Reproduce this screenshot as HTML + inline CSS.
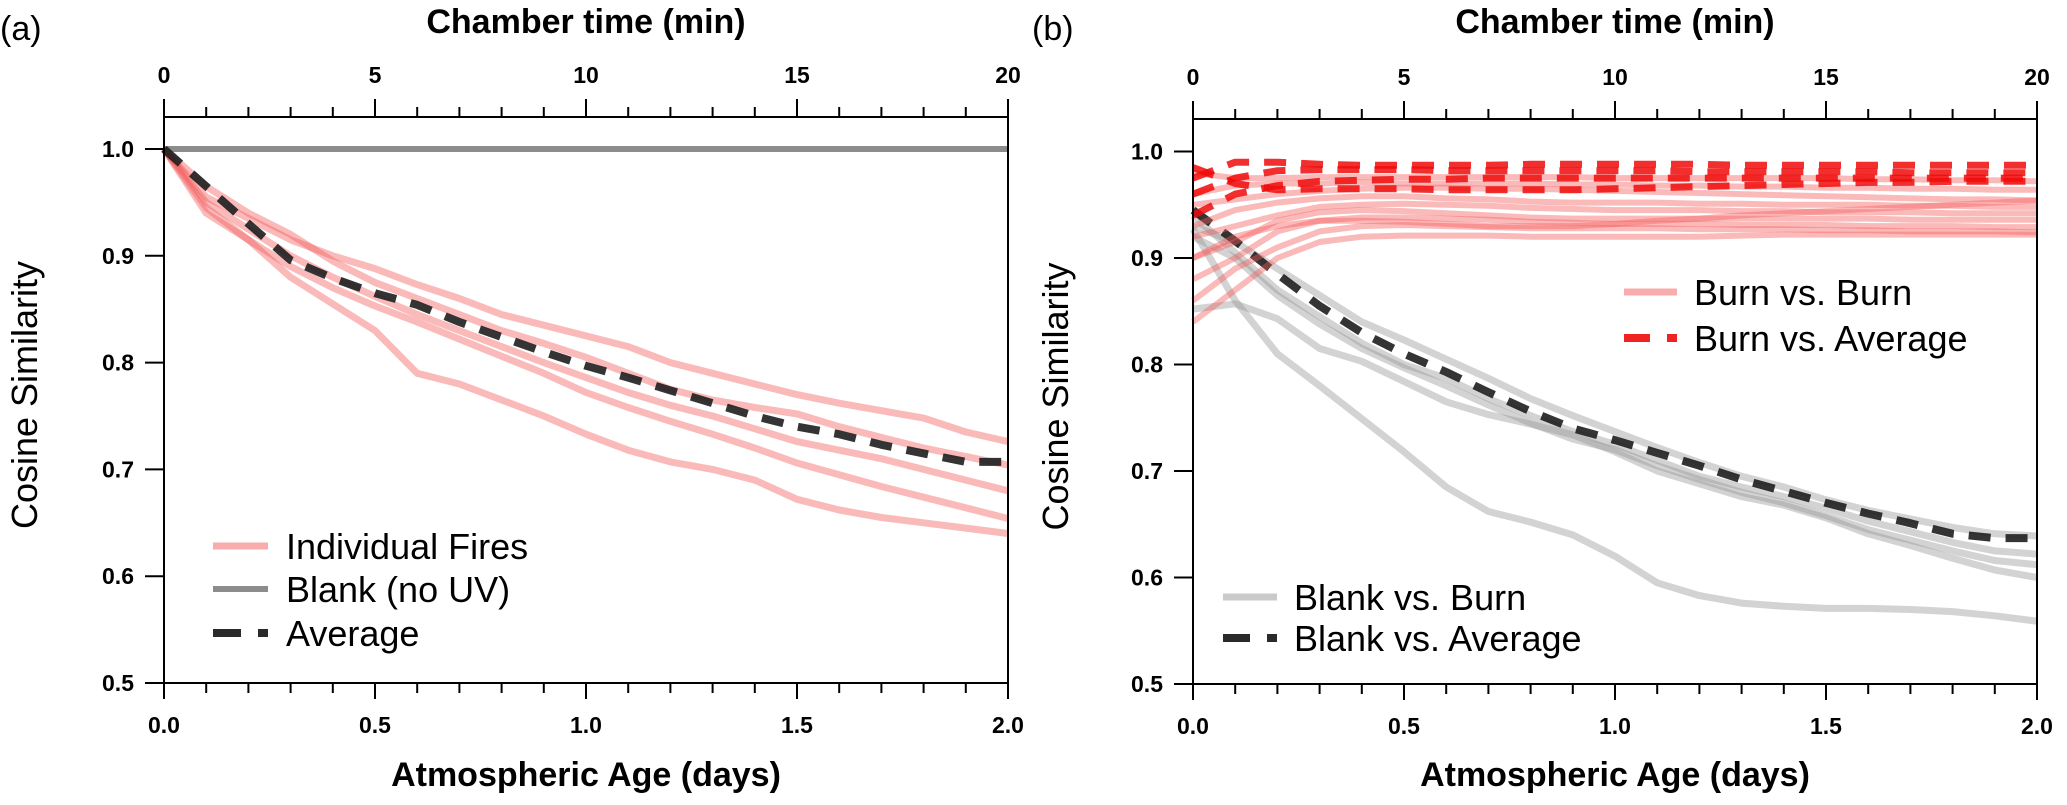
<!DOCTYPE html>
<html><head><meta charset="utf-8">
<style>
html,body{margin:0;padding:0;background:#fff;}
svg{display:block;font-family:"Liberation Sans",Arial,sans-serif;}
</style></head>
<body>
<svg id="fig" width="2067" height="805" viewBox="0 0 2067 805" xmlns="http://www.w3.org/2000/svg"></svg>
<script>
// ---------- data ----------
const ages = [0,0.1,0.2,0.3,0.4,0.5,0.6,0.7,0.8,0.9,1.0,1.1,1.2,1.3,1.4,1.5,1.6,1.7,1.8,1.9,2.0];
const xTicksBottom = ["0.0","0.5","1.0","1.5","2.0"];
const xTicksTop = ["0","5","10","15","20"];
const yTickLabels = ["0.5","0.6","0.7","0.8","0.9","1.0"];

const fireA1 = [1,0.955,0.935,0.915,0.9,0.888,0.873,0.86,0.845,0.835,0.825,0.815,0.8,0.79,0.78,0.77,0.762,0.755,0.748,0.735,0.726];
const fireA2 = [1,0.965,0.94,0.92,0.895,0.875,0.86,0.845,0.83,0.818,0.805,0.79,0.775,0.765,0.758,0.752,0.74,0.73,0.72,0.712,0.704];
const fireA3 = [1,0.95,0.925,0.9,0.88,0.862,0.845,0.83,0.815,0.8,0.786,0.772,0.76,0.75,0.738,0.726,0.718,0.71,0.7,0.69,0.68];
const fireA4 = [1,0.945,0.915,0.89,0.87,0.853,0.838,0.822,0.806,0.79,0.772,0.758,0.745,0.733,0.72,0.706,0.695,0.684,0.674,0.664,0.654];
const fireA5 = [1,0.94,0.915,0.88,0.855,0.83,0.79,0.78,0.765,0.75,0.733,0.718,0.707,0.7,0.69,0.672,0.662,0.655,0.65,0.645,0.64];
const blankA = [1,1,1,1,1,1,1,1,1,1,1,1,1,1,1,1,1,1,1,1,1];
const averageA = [1,0.965,0.93,0.896,0.879,0.865,0.854,0.838,0.824,0.81,0.797,0.786,0.774,0.762,0.75,0.74,0.733,0.723,0.715,0.707,0.707];

const burnB1 = [0.98,0.975,0.975,0.976,0.976,0.976,0.976,0.976,0.976,0.976,0.975,0.975,0.975,0.975,0.975,0.975,0.974,0.974,0.973,0.973,0.972];
const burnB2 = [0.96,0.968,0.97,0.97,0.971,0.97,0.97,0.97,0.97,0.969,0.969,0.968,0.968,0.967,0.967,0.966,0.966,0.965,0.965,0.964,0.964];
const burnB3 = [0.95,0.955,0.96,0.963,0.965,0.966,0.966,0.965,0.965,0.964,0.963,0.962,0.961,0.96,0.959,0.958,0.957,0.956,0.955,0.955,0.954];
const burnB4 = [0.93,0.945,0.952,0.956,0.958,0.958,0.956,0.955,0.953,0.952,0.952,0.952,0.951,0.951,0.95,0.95,0.95,0.949,0.949,0.948,0.948];
const burnB5 = [0.92,0.93,0.94,0.948,0.95,0.951,0.95,0.949,0.947,0.946,0.945,0.945,0.945,0.944,0.944,0.943,0.943,0.943,0.942,0.942,0.942];
const burnB6 = [0.9,0.915,0.935,0.943,0.945,0.944,0.942,0.94,0.938,0.937,0.937,0.937,0.937,0.937,0.937,0.937,0.937,0.936,0.936,0.936,0.936];
const burnB7 = [0.88,0.9,0.925,0.935,0.938,0.938,0.937,0.936,0.934,0.933,0.932,0.932,0.932,0.931,0.931,0.931,0.93,0.93,0.93,0.929,0.929];
const burnB8 = [0.86,0.89,0.91,0.925,0.93,0.931,0.93,0.929,0.928,0.928,0.928,0.928,0.927,0.927,0.927,0.926,0.926,0.925,0.925,0.925,0.924];
const burnB9 = [0.84,0.87,0.9,0.915,0.92,0.921,0.921,0.921,0.92,0.92,0.92,0.92,0.92,0.921,0.922,0.922,0.922,0.922,0.922,0.922,0.922];
const burnB10 = [0.9,0.92,0.93,0.935,0.935,0.934,0.932,0.93,0.93,0.93,0.932,0.935,0.937,0.94,0.942,0.944,0.946,0.948,0.95,0.952,0.954];

const burnAvgB1 = [0.975,0.99,0.99,0.988,0.987,0.987,0.987,0.987,0.988,0.988,0.988,0.988,0.988,0.987,0.987,0.987,0.987,0.987,0.987,0.987,0.987];
const burnAvgB2 = [0.96,0.975,0.982,0.983,0.983,0.983,0.982,0.982,0.982,0.982,0.982,0.982,0.981,0.981,0.981,0.981,0.981,0.98,0.98,0.98,0.98];
const burnAvgB3 = [0.94,0.96,0.968,0.972,0.973,0.974,0.974,0.975,0.975,0.975,0.975,0.975,0.975,0.975,0.975,0.975,0.975,0.975,0.975,0.975,0.975];
const burnAvgB4 = [0.985,0.97,0.964,0.965,0.965,0.965,0.964,0.964,0.964,0.964,0.965,0.966,0.967,0.968,0.969,0.97,0.971,0.971,0.972,0.972,0.972];

const blankB1 = [0.93,0.915,0.89,0.865,0.84,0.823,0.805,0.787,0.768,0.752,0.737,0.722,0.708,0.695,0.685,0.673,0.663,0.655,0.647,0.641,0.639];
const blankB2 = [0.94,0.905,0.87,0.845,0.82,0.8,0.787,0.768,0.752,0.737,0.725,0.71,0.695,0.685,0.676,0.665,0.653,0.643,0.633,0.625,0.622];
const blankB3 = [0.92,0.9,0.865,0.838,0.815,0.797,0.78,0.762,0.745,0.73,0.72,0.705,0.692,0.68,0.67,0.658,0.645,0.635,0.625,0.616,0.612];
const blankB4 = [0.852,0.857,0.843,0.815,0.803,0.784,0.765,0.753,0.744,0.734,0.718,0.7,0.688,0.676,0.668,0.656,0.641,0.63,0.618,0.607,0.6];
const blankB5 = [0.927,0.86,0.81,0.78,0.749,0.718,0.685,0.662,0.652,0.64,0.62,0.595,0.583,0.576,0.573,0.571,0.571,0.57,0.568,0.564,0.559];
const blankAvgB = [0.945,0.916,0.885,0.855,0.83,0.81,0.793,0.774,0.756,0.74,0.729,0.717,0.705,0.692,0.681,0.67,0.66,0.651,0.641,0.637,0.637];

// ---------- drawing ----------
const NS = "http://www.w3.org/2000/svg";
const svg = document.getElementById('fig');
function el(tag, attrs, parent, text){
  const e = document.createElementNS(NS, tag);
  for (const k in attrs) e.setAttribute(k, attrs[k]);
  if (text !== undefined) e.textContent = text;
  (parent || svg).appendChild(e);
  return e;
}

function panel(cfg){
  const g = el('g', {});
  
  
  const L = cfg.left, R = cfg.right, T = cfg.top, B = cfg.bottom;
  const xs = v => L + (v / 2.0) * (R - L);
  const ys = v => B - (v - 0.5) / 0.1 * cfg.step;

  cfg.series.forEach(s => {
    const d = s.data.map((v, i) => (i ? 'L' : 'M') + xs(ages[i]).toFixed(1) + ' ' + ys(v).toFixed(1)).join(' ');
    const p = el('path', {d: d, fill: 'none', stroke: s.color, 'stroke-width': s.w, 'stroke-linejoin': 'round', 'stroke-linecap': 'butt'}, g);
    if (s.dash) p.setAttribute('stroke-dasharray', s.dash);
    
    
  });

  const frame = el('rect', {x: L, y: T, width: R - L, height: B - T, fill: 'none', stroke: '#000', 'stroke-width': 2}, g);
  
  

  for (let i = 0; i <= 20; i++) {
    const x = L + i / 20 * (R - L);
    const major = i % 5 === 0;
    const tb = el('line', {x1: x, x2: x, y1: B, y2: B + (major ? 16 : 10), stroke: '#000', 'stroke-width': 2}, g);
    
    
    const tt = el('line', {x1: x, x2: x, y1: T, y2: T - (major ? 18 : 10), stroke: '#000', 'stroke-width': 2}, g);
    
    
  }
  xTicksBottom.forEach((t, i) => {
    const tx = el('text', {x: L + i / 4 * (R - L), y: B + 50, 'text-anchor': 'middle', 'font-size': 23, 'font-weight': 'bold'}, g, t);
    
    
  });
  xTicksTop.forEach((t, i) => {
    const tx = el('text', {x: L + i / 4 * (R - L), y: T - 34, 'text-anchor': 'middle', 'font-size': 23, 'font-weight': 'bold'}, g, t);
    
    
  });
  yTickLabels.forEach(t => {
    const y = ys(parseFloat(t));
    const tk = el('line', {x1: L - 19, x2: L, y1: y, y2: y, stroke: '#000', 'stroke-width': 2}, g);
    
    
    const tx = el('text', {x: L - 30, y: y + 8, 'text-anchor': 'end', 'font-size': 23, 'font-weight': 'bold'}, g, t);
    
    
  });

  const cx = (L + R) / 2;
  const t1 = el('text', {x: cx, y: 33, 'text-anchor': 'middle', 'font-size': 34, 'font-weight': 'bold'}, g, 'Chamber time (min)');
  
  
  const t2 = el('text', {x: cx, y: 786, 'text-anchor': 'middle', 'font-size': 34, 'font-weight': 'bold'}, g, 'Atmospheric Age (days)');
  
  
  const yc = (T + B) / 2 - 5;
  const t3 = el('text', {x: 0, y: 0, 'text-anchor': 'middle', 'font-size': 36, transform: `translate(${cfg.ytitleX},${yc}) rotate(-90)`}, g, 'Cosine Similarity');
  
  
  const t4 = el('text', {x: cfg.labelX, y: 40, 'font-size': 34}, g, cfg.label);
  
  

  cfg.legend.forEach(it => {
    const lg = el('g', {}, g);
    
    
    const ln = el('line', {x1: it.x1, x2: it.x2, y1: it.y, y2: it.y, stroke: it.color, 'stroke-width': it.w}, lg);
    if (it.dash) ln.setAttribute('stroke-dasharray', it.dash);
    
    
    const tx = el('text', {x: it.tx, y: it.y + 13, 'font-size': 36}, lg, it.text);
    
    
  });
}

const fireC = 'rgba(242,90,90,0.42)', burnC = 'rgba(245,90,90,0.42)', burnAvgC = 'rgba(240,10,10,0.85)', greyC = 'rgba(150,150,150,0.42)';
panel({
  name: 'panel-a', label: '(a)', labelX: 0, ytitleX: 37,
  left: 164, right: 1008, top: 117, bottom: 683, step: 106.8,
  series: [
    {name:'fire-1', data: fireA1, color: fireC, w: 7},
    {name:'fire-2', data: fireA2, color: fireC, w: 7},
    {name:'fire-3', data: fireA3, color: fireC, w: 7},
    {name:'fire-4', data: fireA4, color: fireC, w: 7},
    {name:'fire-5', data: fireA5, color: fireC, w: 7},
    {name:'blank-line', data: blankA, color: '#8c8c8c', w: 6},
    {name:'average-line', data: averageA, color: 'rgba(30,30,30,0.9)', w: 8, dash: '22 15'}
  ],
  legend: [
    {x1: 213, x2: 268, y: 546, color: 'rgba(242,90,90,0.5)', w: 7, tx: 286, text: 'Individual Fires'},
    {x1: 213, x2: 268, y: 589, color: '#8c8c8c', w: 6, tx: 286, text: 'Blank (no UV)'},
    {x1: 213, x2: 268, y: 633, color: '#2a2a2a', w: 8, dash: '28 17 10 10', tx: 286, text: 'Average'}
  ]
});
panel({
  name: 'panel-b', label: '(b)', labelX: 1032, ytitleX: 1068,
  left: 1193, right: 2037, top: 119, bottom: 684, step: 106.5,
  series: [
    {name:'blank-vs-burn-1', data: blankB1, color: greyC, w: 7},
    {name:'blank-vs-burn-2', data: blankB2, color: greyC, w: 7},
    {name:'blank-vs-burn-3', data: blankB3, color: greyC, w: 7},
    {name:'blank-vs-burn-4', data: blankB4, color: greyC, w: 7},
    {name:'blank-vs-burn-5', data: blankB5, color: greyC, w: 7},
    {name:'blank-vs-average', data: blankAvgB, color: 'rgba(30,30,30,0.9)', w: 8, dash: '22 15'},
    {name:'burn-vs-burn-1', data: burnB1, color: burnC, w: 6},
    {name:'burn-vs-burn-2', data: burnB2, color: burnC, w: 6},
    {name:'burn-vs-burn-3', data: burnB3, color: burnC, w: 6},
    {name:'burn-vs-burn-4', data: burnB4, color: burnC, w: 6},
    {name:'burn-vs-burn-5', data: burnB5, color: burnC, w: 6},
    {name:'burn-vs-burn-6', data: burnB6, color: burnC, w: 6},
    {name:'burn-vs-burn-7', data: burnB7, color: burnC, w: 6},
    {name:'burn-vs-burn-8', data: burnB8, color: burnC, w: 6},
    {name:'burn-vs-burn-9', data: burnB9, color: burnC, w: 6},
    {name:'burn-vs-burn-10', data: burnB10, color: burnC, w: 6},
    {name:'burn-vs-average-1', data: burnAvgB1, color: burnAvgC, w: 7, dash: '22 15'},
    {name:'burn-vs-average-2', data: burnAvgB2, color: burnAvgC, w: 7, dash: '22 15'},
    {name:'burn-vs-average-3', data: burnAvgB3, color: burnAvgC, w: 7, dash: '22 15'},
    {name:'burn-vs-average-4', data: burnAvgB4, color: burnAvgC, w: 7, dash: '22 15'}
  ],
  legend: [
    {x1: 1624, x2: 1677, y: 292, color: 'rgba(245,90,90,0.5)', w: 7, tx: 1694, text: 'Burn vs. Burn'},
    {x1: 1624, x2: 1677, y: 338, color: 'rgba(240,10,10,0.9)', w: 8, dash: '26 17 10 10', tx: 1694, text: 'Burn vs. Average'},
    {x1: 1223, x2: 1277, y: 597, color: 'rgba(150,150,150,0.5)', w: 7, tx: 1294, text: 'Blank vs. Burn'},
    {x1: 1223, x2: 1277, y: 638, color: '#2a2a2a', w: 8, dash: '27 17 10 10', tx: 1294, text: 'Blank vs. Average'}
  ]
});
</script>
</body></html>
